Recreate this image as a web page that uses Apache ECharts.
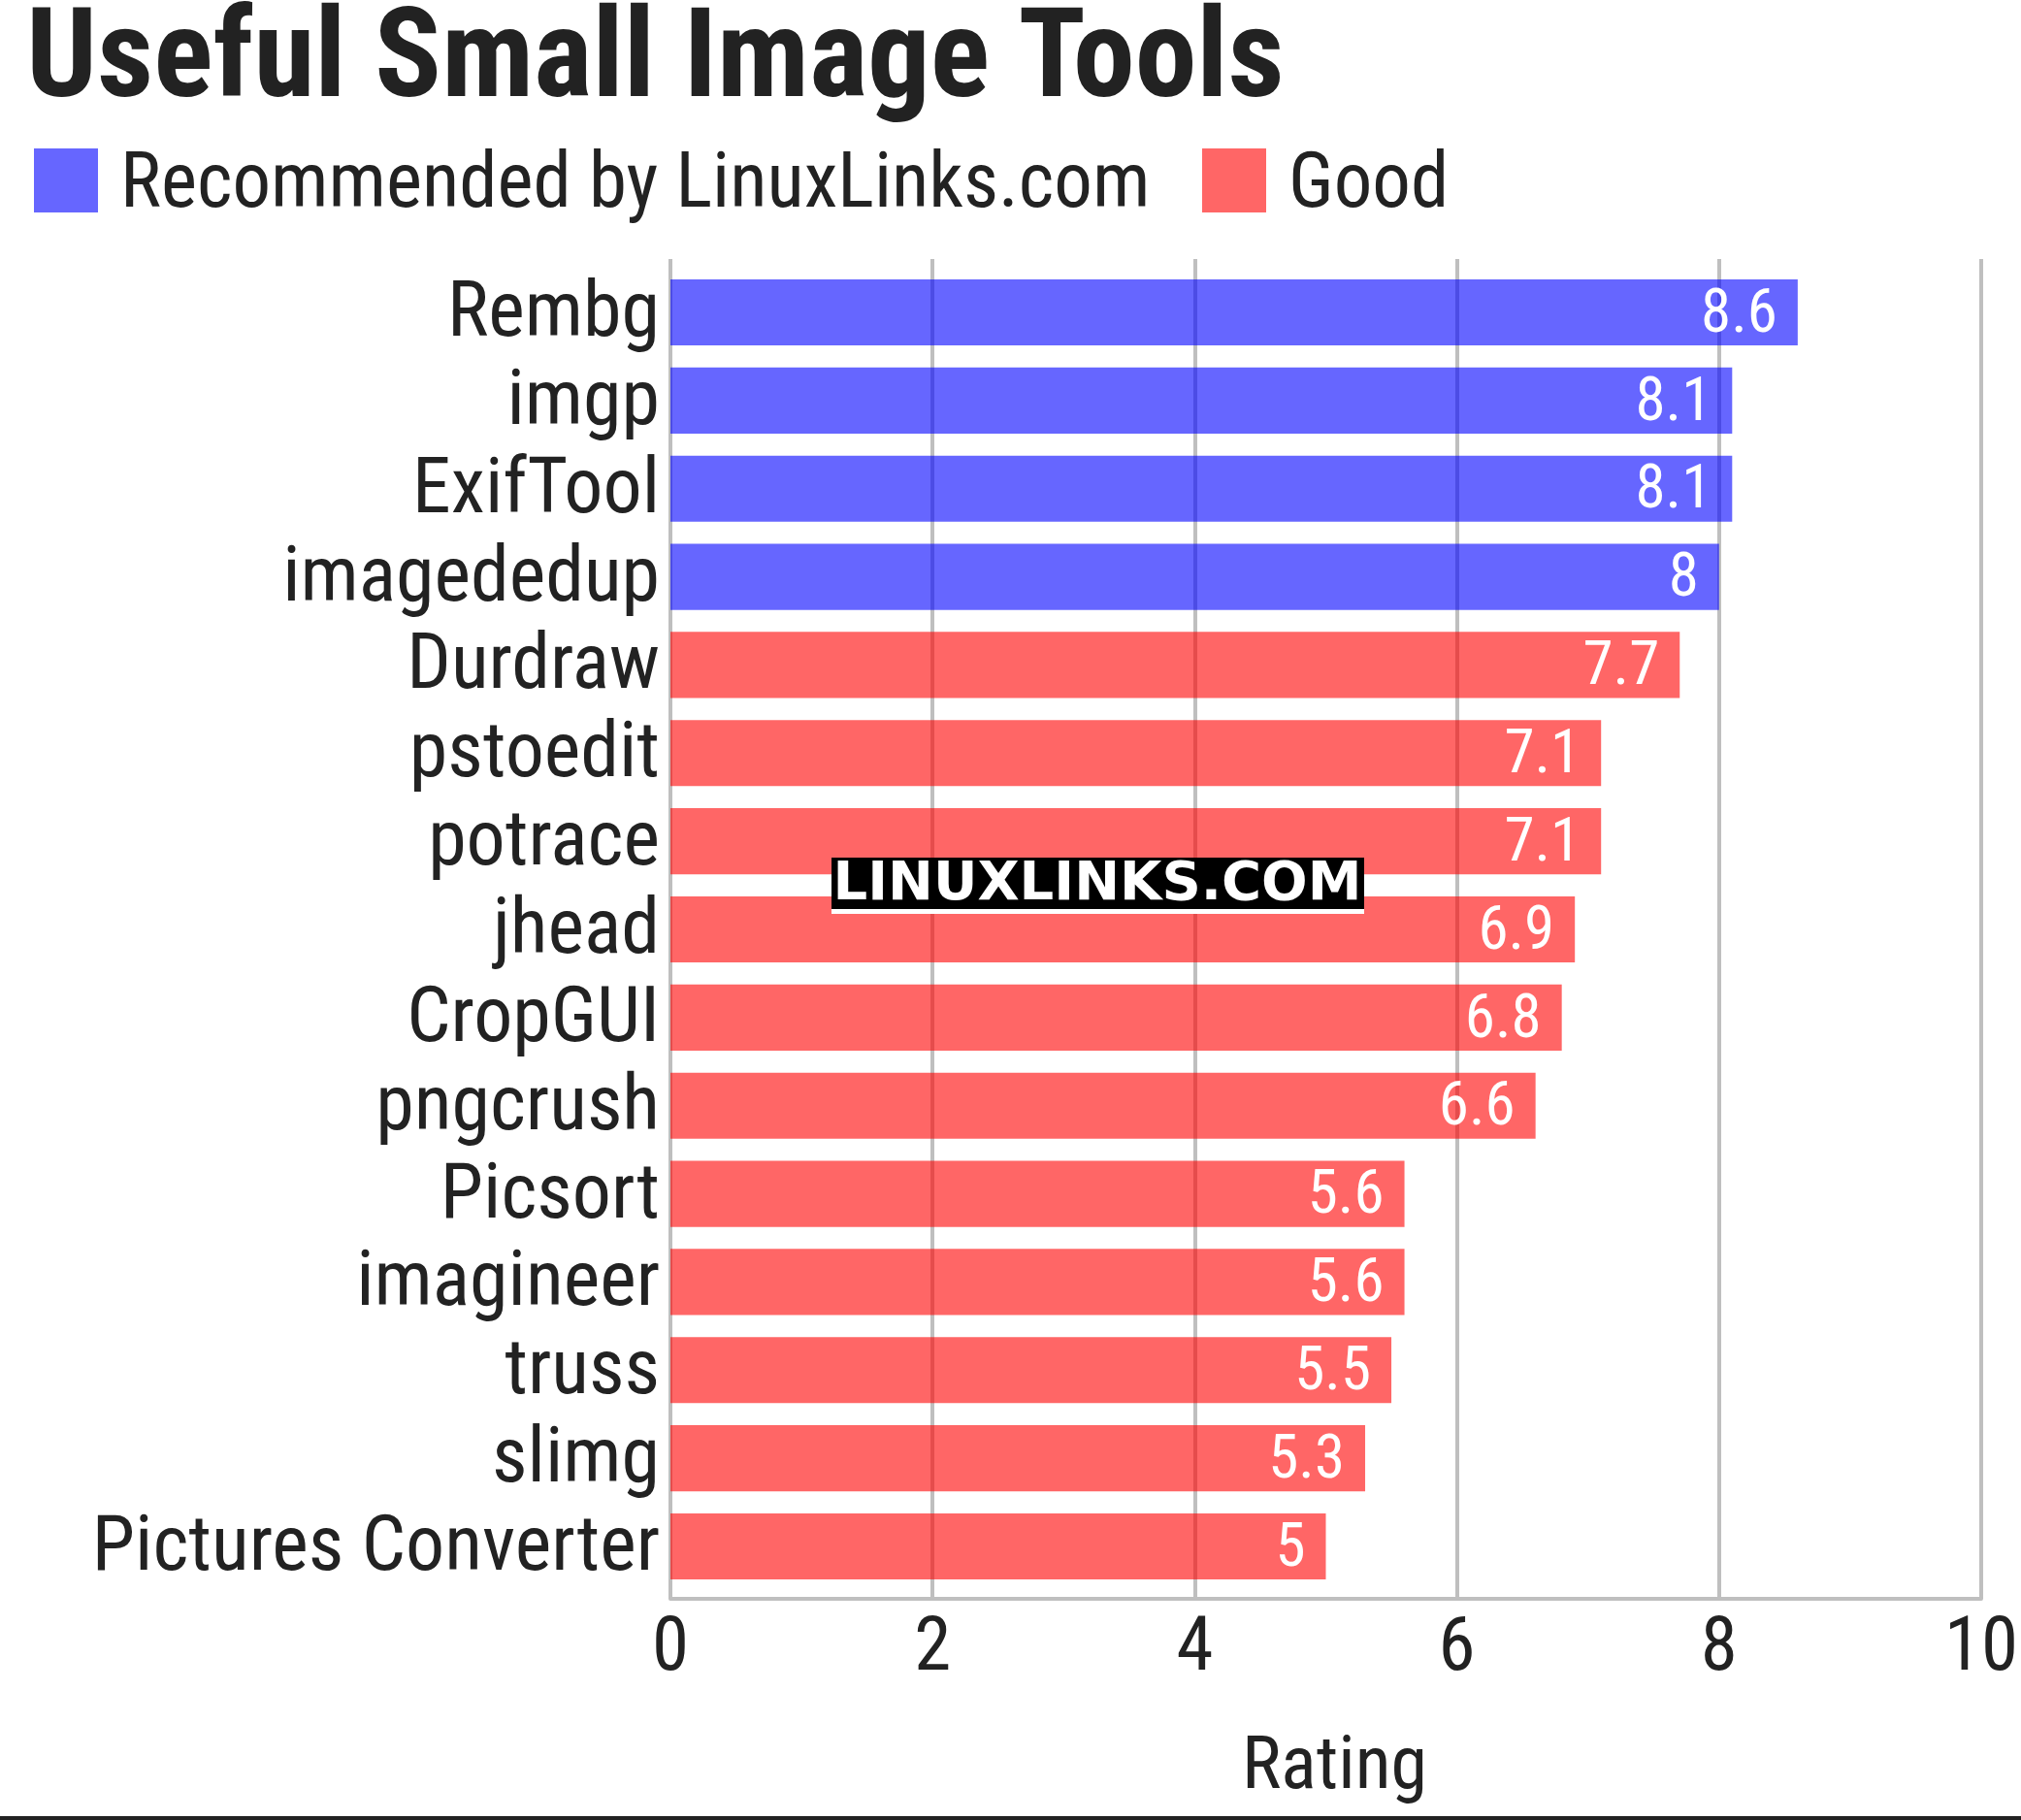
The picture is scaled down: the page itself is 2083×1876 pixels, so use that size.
<!DOCTYPE html>
<html>
<head>
<meta charset="utf-8">
<style>
  html, body { margin: 0; padding: 0; background: #fff; }
  #chart { width: 2083px; height: 1876px; }
</style>
<script src="https://cdn.jsdelivr.net/npm/echarts@6/dist/echarts.min.js"></script>
</head>
<body>
<div id="chart"></div>
<script>
// top to bottom, as in the picture
const tools = ["Rembg", "imgp", "ExifTool", "imagededup", "Durdraw", "pstoedit", "potrace",
  "jhead", "CropGUI", "pngcrush", "Picsort", "imagineer", "truss", "slimg", "Pictures Converter"];
const ratings = [8.6, 8.1, 8.1, 8, 7.7, 7.1, 7.1, 6.9, 6.8, 6.6, 5.6, 5.6, 5.5, 5.3, 5];
const tiers = ["rec", "rec", "rec", "rec", "good", "good", "good", "good", "good", "good",
  "good", "good", "good", "good", "good"];
const xTicks = [0, 2, 4, 6, 8, 10];

const REC = "Recommended by LinuxLinks.com";
const GOOD = "Good";
const font = "'Roboto Condensed', 'Liberation Sans Narrow', Roboto, sans-serif";
const ink = "#222222";
const gridGray = "#bfbfbf";

const recData = ratings.map((v, i) => (tiers[i] === "rec" ? v : "-"));
const goodData = ratings.map((v, i) => (tiers[i] === "good" ? v : "-"));

// small lineHeight + top align nudges the glyphs a few px down
const barLabel = {
  show: true,
  position: "insideRight",
  distance: 21,
  color: "#fff",
  fontFamily: font,
  fontSize: 63,
  verticalAlign: "top",
  lineHeight: 8,
};

const legendText = {
  fontFamily: font,
  fontSize: 79,
  color: ink,
  rich: {
    t: { fontFamily: font, fontSize: 79, color: ink, padding: [14, 0, 0, 18] },
  },
};

const chart = echarts.init(document.getElementById("chart"));
chart.setOption({
  backgroundColor: "#fff",
  animation: false,
  title: {
    text: "Useful Small Image Tools",
    left: 22,
    top: -2,
    textStyle: { fontFamily: font, fontWeight: "bold", fontSize: 128, color: ink },
  },
  legend: [
    {
      data: [REC],
      left: 35,
      top: 153,
      padding: 0,
      itemWidth: 66,
      itemHeight: 66,
      icon: "rect",
      formatter: "{t|{name}}",
      textStyle: legendText,
    },
    {
      data: [GOOD],
      left: 1239,
      top: 153,
      padding: 0,
      itemWidth: 66,
      itemHeight: 66,
      icon: "rect",
      formatter: "{t|{name}}",
      textStyle: legendText,
    },
  ],
  grid: [
    // bars
    { left: 691, right: 41, top: 276.6, bottom: 236.6 },
    // axis frame, a bit taller than the bars
    { left: 691, right: 41, top: 267, bottom: 228 },
  ],
  xAxis: [
    {
      gridIndex: 0,
      type: "value",
      min: xTicks[0],
      max: xTicks[xTicks.length - 1],
      interval: 2,
      show: false,
    },
    {
      gridIndex: 1,
      type: "value",
      min: xTicks[0],
      max: xTicks[xTicks.length - 1],
      interval: 2,
      name: "Rating",
      nameLocation: "middle",
      nameGap: 138,
      nameTextStyle: { fontFamily: font, fontSize: 76, color: ink, padding: [0, 0, 0, 18] },
      axisLine: { show: true, lineStyle: { color: gridGray, width: 4 } },
      axisTick: { show: false },
      axisLabel: { fontFamily: font, fontSize: 77, color: ink, margin: 15 },
      splitLine: { show: true, lineStyle: { color: gridGray, width: 4 } },
    },
  ],
  yAxis: [
    {
      gridIndex: 0,
      type: "category",
      data: tools,
      inverse: true,
      axisLine: { show: false },
      axisTick: { show: false },
      axisLabel: {
        interval: 0,
        fontFamily: font,
        fontSize: 80,
        color: ink,
        margin: 11,
        verticalAlign: "top",
        lineHeight: 8,
      },
    },
    {
      gridIndex: 1,
      type: "value",
      show: false,
    },
  ],
  series: [
    {
      name: REC,
      type: "bar",
      xAxisIndex: 0,
      yAxisIndex: 0,
      data: recData,
      barWidth: "75%",
      barGap: "-100%",
      itemStyle: { color: "rgba(0, 0, 255, 0.6)" },
      label: barLabel,
    },
    {
      name: GOOD,
      type: "bar",
      xAxisIndex: 0,
      yAxisIndex: 0,
      data: goodData,
      barWidth: "75%",
      barGap: "-100%",
      itemStyle: { color: "rgba(255, 0, 0, 0.6)" },
      label: barLabel,
    },
  ],
  graphic: [
    // watermark
    { type: "rect", z: 100, shape: { x: 857, y: 884, width: 549, height: 53 }, style: { fill: "#000" } },
    { type: "rect", z: 100, shape: { x: 857, y: 937, width: 549, height: 5 }, style: { fill: "#fff" } },
    {
      type: "text",
      z: 101,
      x: 1131,
      y: 912,
      style: {
        text: "LINUXLINKS.COM",
        fill: "#fff",
        font: "bold 56px 'DejaVu Sans'",
        textAlign: "center",
        textVerticalAlign: "middle",
      },
    },
    // bottom rule
    { type: "rect", z: 100, shape: { x: 0, y: 1872, width: 2083, height: 4 }, style: { fill: "#222" } },
  ],
});
</script>
</body>
</html>
